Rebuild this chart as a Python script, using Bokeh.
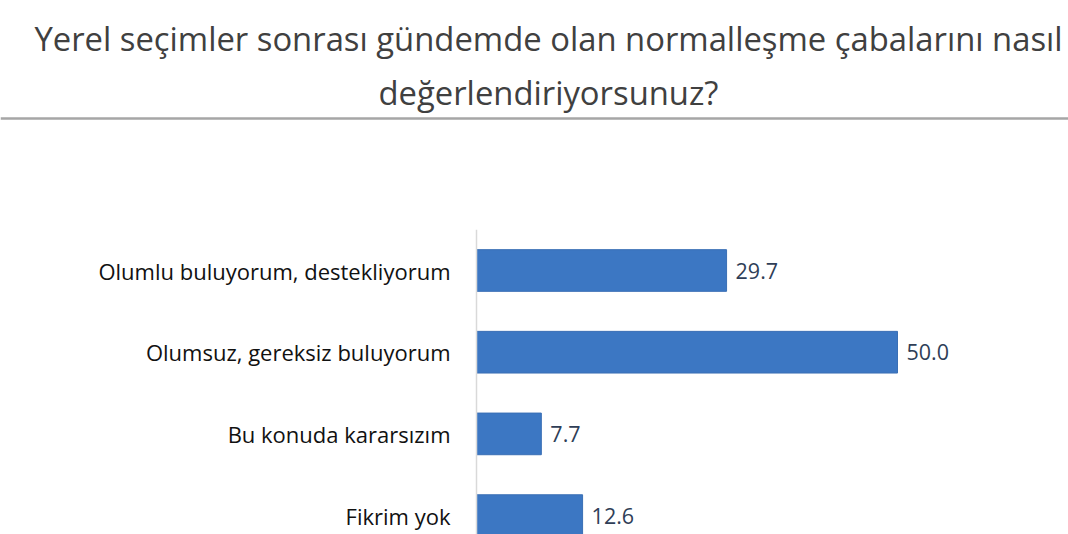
from bokeh.plotting import figure
from bokeh.models import Range1d, Span, ColumnDataSource, Label
from bokeh.core.properties import value
from bokeh.embed import file_html
from bokeh.resources import INLINE

title_lines = ["Yerel seçimler sonrası gündemde olan normalleşme çabalarını nasıl",
               "değerlendiriyorsunuz?"]
categories = ["Olumlu buluyorum, destekliyorum",
              "Olumsuz, gereksiz buluyorum",
              "Bu konuda kararsızım",
              "Fikrim yok"]
values = [29.7, 50.0, 7.7, 12.6]

W, H = 1068, 534
X0 = 476.0      # pixel position of value 0
XS = 8.42       # pixels per unit
Y0 = 270.0      # pixel (from top) of first category centre
YS = 81.7       # pixels per category

def dx(px):
    return (px - X0) / XS

def dy(py):
    return (py - Y0) / YS

p = figure(width=W, height=H, output_backend="svg", toolbar_location=None,
           x_range=Range1d(dx(0), dx(W)), y_range=Range1d(dy(H), dy(0)),
           min_border=0)
p.xaxis.visible = False
p.yaxis.visible = False
p.xgrid.visible = False
p.ygrid.visible = False
p.outline_line_color = None
p.background_fill_color = "white"
p.border_fill_color = "white"

idx = list(range(len(categories)))
labels = [f"{v:.1f}" for v in values]
src = ColumnDataSource(dict(y=idx, v=values, cat=categories, lab=labels,
                            zero=[0] * len(values)))

p.hbar(y="y", left=0, right="v", height=0.51, source=src,
       fill_color="#3C77C3", line_color="#3A6FB5", line_width=1)

p.text(x="v", y="y", text="lab", source=src, x_offset=9,
       text_align="left", text_baseline="middle",
       text_font=value("Open Sans"), text_font_size="21.5px", text_color="#2F3E57")

p.text(x="zero", y="y", text="cat", source=src, x_offset=-26,
       text_align="right", text_baseline="middle",
       text_font=value("Open Sans"), text_font_size="22px", text_color="#111111")

# vertical axis line
p.segment(x0=[0], y0=[-0.5], x1=[0], y1=[dy(H + 40)], line_color="#D9D9D9", line_width=1.5)

# separator under title
p.add_layout(Span(location=dy(118), dimension="width", line_color="#A6A6A6", line_width=2.5))

for t, py in zip(title_lines, [38, 92]):
    p.add_layout(Label(x=dx(548), y=dy(py), text=t, text_align="center",
                       text_baseline="middle", text_font="Open Sans",
                       text_font_size="32.8px", text_color="#404040"))

open("out.html", "w").write(file_html(p, INLINE))
